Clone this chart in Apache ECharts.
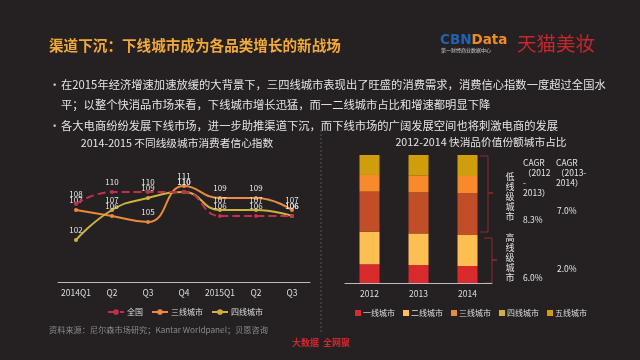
<!DOCTYPE html>
<html><head><meta charset="utf-8">
<script src="https://cdn.jsdelivr.net/npm/echarts@6/dist/echarts.min.js"></script>
<style>html,body{margin:0;padding:0;background:#252122;}#c{width:640px;height:360px;}</style>
</head><body><div id="c"></div>
<script>
const quarters = ['2014Q1','Q2','Q3','Q4','2015Q1','Q2','Q3'];
const lineNames = ['全国','三线城市','四线城市'];
const national = [108,110,110,110,106,106,106];
const tier3 = [107,106,105,111,109,109,107];
const tier4 = [102,107,109,110,107,107,106];

const years = ['2012','2013','2014'];
const tierNames = ['一线城市','二线城市','三线城市','四线城市','五线城市'];
const tier1Share = [14.6,14.0,13.3];
const tier2Share = [25.5,24.7,24.2];
const tier3Share = [31.3,32.1,32.6];
const tier4Share = [13.0,13.0,13.5];
const tier5Share = [15.6,16.2,16.4];

const FONT = '"Noto Sans CJK SC","Noto Sans",sans-serif';
const chart = echarts.init(document.getElementById('c'), null, {renderer:'canvas'});
const lineColors = ['#c0304a','#e98a3c','#cdb33c'];
const barColors = ['#d92b2b','#fdbf52','#c24e28','#f98a2c','#d09e0c'];
const lineData = [national, tier3, tier4];
const barData = [tier1Share, tier2Share, tier3Share, tier4Share, tier5Share];
const txt = '#e4e4e4';

function t(x,y,text,opt){return {type:'text',x:x,y:y,style:Object.assign({text:text,fill:txt,font:'11.3px '+FONT,textVerticalAlign:'middle'},opt||{})};}

const graphics = [
  t(49,45,'渠道下沉：下线城市成为各品类增长的新战场',{fill:'#f2a93b',font:'bold 14.6px '+FONT}),
  {type:'text',x:440,y:40,style:{rich:{a:{fill:'#1f63b5',font:'bold 13.5px "DejaVu Sans",sans-serif'},b:{fill:'#f08a24',font:'bold 13.5px "DejaVu Sans",sans-serif'}},text:'{a|CBN}{b|Data}',textVerticalAlign:'middle'}},
  t(441,50,'第一财经商业数据中心',{fill:'#cccccc',font:'5px '+FONT}),
  t(517,44,'天猫美妆',{fill:'#c8262c',font:'19.5px '+FONT}),
  t(49,85,'•',{fill:'#cccccc'}),
  t(61,85,'在2015年经济增速加速放缓的大背景下，三四线城市表现出了旺盛的消费需求，消费信心指数一度超过全国水'),
  t(61,105,'平；以整个快消品市场来看，下线城市增长迅猛，而一二线城市占比和增速都明显下降'),
  t(49,126,'•',{fill:'#cccccc'}),
  t(61,126,'各大电商纷纷发展下线市场，进一步助推渠道下沉，而下线市场的广阔发展空间也将刺激电商的发展'),
  t(177,143,'2014-2015 不同线级城市消费者信心指数',{font:'10.7px '+FONT,textAlign:'center'}),
  t(481,142,'2012-2014 快消品价值份额城市占比',{font:'10.7px '+FONT,textAlign:'center'}),
  {type:'line',shape:{x1:321,y1:130,x2:321,y2:332},style:{stroke:'#555',lineWidth:1,lineDash:[2,2]}},
  {type:'polyline',shape:{points:[[480,156],[488,156],[488,193],[493,193],[488,193],[488,232],[480,232]]},style:{stroke:'#8e2b2b',lineWidth:1,fill:null}},
  {type:'polyline',shape:{points:[[484,238],[492,238],[492,260],[497,260],[492,260],[492,283],[484,283]]},style:{stroke:'#8e2b2b',lineWidth:1,fill:null}},
  t(510,172,'低\n线\n级\n城\n市',{font:'9px '+FONT,lineHeight:10,textAlign:'center',textVerticalAlign:'top'}),
  t(510,233,'高\n线\n级\n城\n市',{font:'9px '+FONT,lineHeight:10,textAlign:'center',textVerticalAlign:'top'}),
  t(523,158,'CAGR\n（2012\n-\n2013）',{font:'8.5px '+FONT,lineHeight:10,textVerticalAlign:'top'}),
  t(556,158,'CAGR\n（2013-\n2014）',{font:'8.5px '+FONT,lineHeight:10,textVerticalAlign:'top'}),
  t(523,220,'8.3%',{font:'8.5px '+FONT}),
  t(557,211,'7.0%',{font:'8.5px '+FONT}),
  t(523,278,'6.0%',{font:'8.5px '+FONT}),
  t(557,269,'2.0%',{font:'8.5px '+FONT}),
  t(49,330,'资料来源：尼尔森市场研究；Kantar Worldpanel；贝恩咨询',{fill:'#8a8a8a',font:'8.2px '+FONT}),
  t(321,343,'大数据  全网聚',{fill:'#d3262b',font:'bold 9px '+FONT,textAlign:'center'})
];

const series = [];
lineNames.forEach((n,i)=>{
  series.push({name:n,type:'line',xAxisIndex:0,yAxisIndex:0,data:lineData[i],smooth:true,
    symbol:'circle',symbolSize:4,
    lineStyle:{color:lineColors[i],width:2,type:i===0?'dashed':'solid'},
    itemStyle:{color:lineColors[i]},
    label:{show:true,position:'top',distance:4,color:'#e6e6e6',fontSize:8,fontFamily:FONT},
    z:i===0?3:2});
});
tierNames.forEach((n,i)=>{
  series.push({name:n,type:'bar',stack:'s',xAxisIndex:1,yAxisIndex:1,data:barData[i],barWidth:20,
    itemStyle:{color:barColors[i]}});
});

chart.setOption({
  backgroundColor:'#252122',
  textStyle:{fontFamily:FONT},
  animation:false,
  grid:[{left:58,width:252,top:162,height:120},{left:345,width:147,top:155,height:128}],
  xAxis:[
    {type:'category',gridIndex:0,data:quarters,boundaryGap:true,axisLine:{lineStyle:{color:'#bbbbbb'}},axisTick:{show:false},axisLabel:{color:'#dddddd',fontSize:8.5,margin:7,interval:0}},
    {type:'category',gridIndex:1,data:years,axisLine:{lineStyle:{color:'#bbbbbb'}},axisTick:{show:false},axisLabel:{color:'#dddddd',fontSize:8.5,margin:7,interval:0}}
  ],
  yAxis:[
    {type:'value',gridIndex:0,min:95,max:115,show:false},
    {type:'value',gridIndex:1,min:0,max:100,show:false}
  ],
  legend:[
    {data:lineNames,left:102,top:303,itemWidth:16,itemHeight:7,itemGap:8,textStyle:{color:'#dddddd',fontSize:8,padding:[0,0,0,-2]}},
    {data:tierNames,left:350,top:304,icon:'rect',itemWidth:6,itemHeight:6,itemGap:8,textStyle:{color:'#dddddd',fontSize:8,padding:[0,0,0,-3]}}
  ],
  graphic:graphics,
  series:series
});
</script></body></html>
